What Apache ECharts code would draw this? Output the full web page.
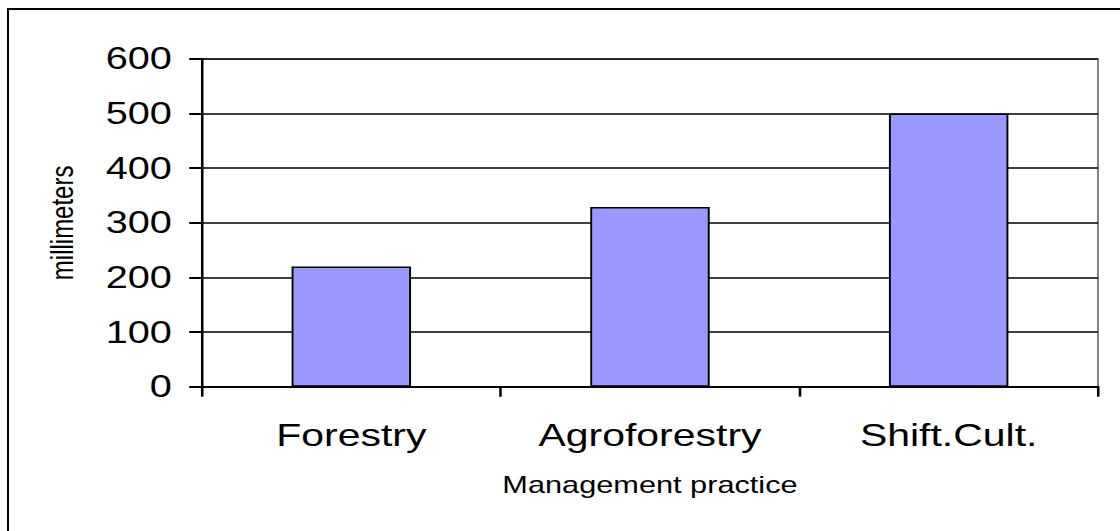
<!DOCTYPE html>
<html>
<head>
<meta charset="utf-8">
<title>Water use by management practice</title>
<script src="https://cdn.jsdelivr.net/npm/echarts@6/dist/echarts.min.js"></script>
<style>
  html, body { margin: 0; padding: 0; background: #ffffff; overflow: hidden; }
  #frame {
    position: absolute; left: 7px; top: 8px;
    width: 1200px; height: 600px;
    border: 2px solid #000000;
  }
  /* the chart is laid out narrower and widened horizontally, text included */
  #chart {
    position: absolute; left: 0; top: 0;
    width: 875px; height: 531px;
    transform: scaleX(1.28); transform-origin: 0 0;
  }
</style>
</head>
<body>
<div id="frame"></div>
<div id="chart"></div>
<script>
// Practices on the category axis
const categories = ['Forestry', 'Agroforestry', 'Shift.Cult.'];
// Amount per practice, in millimeters
const values = [220, 329, 500];
// Value axis ticks
const yTicks = [0, 100, 200, 300, 400, 500, 600];

const FONT = "'Liberation Sans', Arial, Helvetica, sans-serif";

const chart = echarts.init(document.getElementById('chart'), null, { renderer: 'svg' });

chart.setOption({
  animation: false,
  backgroundColor: 'transparent',
  grid: {
    left: 157.8, right: 17.2, top: 59, bottom: 144.3,
    show: true, borderColor: '#808080', borderWidth: 1.5,
    containLabel: false
  },
  xAxis: {
    type: 'category',
    data: categories,
    name: 'Management practice',
    nameLocation: 'middle',
    nameGap: 86,
    nameTextStyle: { fontFamily: FONT, fontSize: 24, color: '#000' },
    axisLine: { lineStyle: { color: '#000', width: 2 } },
    axisTick: { show: true, length: 10, lineStyle: { color: '#000', width: 2 } },
    axisLabel: { margin: 32, fontFamily: FONT, fontSize: 32, color: '#000' },
    splitLine: { show: false }
  },
  yAxis: {
    type: 'value',
    min: yTicks[0],
    max: yTicks[yTicks.length - 1],
    interval: yTicks[1] - yTicks[0],
    name: 'millimeters',
    nameLocation: 'middle',
    nameRotate: 90,
    nameGap: 97,
    nameTextStyle: { fontFamily: FONT, fontSize: 24, color: '#000' },
    axisLine: { show: true, lineStyle: { color: '#000', width: 2 } },
    axisTick: { show: true, length: 10, lineStyle: { color: '#000', width: 2 } },
    axisLabel: { margin: 23.5, fontFamily: FONT, fontSize: 31, color: '#000' },
    splitLine: { show: true, lineStyle: { color: '#000', width: 1.5 } }
  },
  series: [{
    type: 'bar',
    data: values,
    barCategoryGap: '60%',
    itemStyle: { color: '#9999FF', borderColor: '#000', borderWidth: 1.5 }
  }]
});
</script>
</body>
</html>
